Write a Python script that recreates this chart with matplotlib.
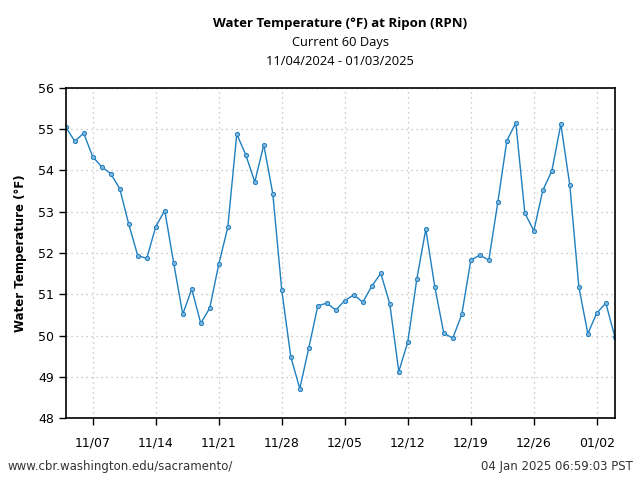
import datetime as dt
import matplotlib
matplotlib.use('Agg')
import matplotlib.pyplot as plt
import matplotlib.dates as mdates

# Valores diarios de temperatura del agua (°F), 11/04/2024 - 01/04/2025
start = dt.datetime(2024, 11, 4)
temps = [55.05, 54.71, 54.90, 54.33, 54.09, 53.92, 53.56, 52.70, 51.94, 51.87,
         52.64, 53.03, 51.75, 50.52, 51.13, 50.30, 50.67, 51.73, 52.62, 54.88,
         54.38, 53.72, 54.62, 53.44, 51.10, 49.49, 48.72,
         49.70, 50.72, 50.79, 50.62, 50.85, 50.99, 50.81, 51.20, 51.51, 50.77,
         49.13, 49.85, 51.37, 52.58, 51.18, 50.06, 49.94, 50.52, 51.83, 51.95,
         51.83, 53.23, 54.72, 55.15, 52.97, 52.54, 53.52, 53.99, 55.12, 53.64,
         51.18,
         50.05, 50.55, 50.79, 49.97]
dates = [start + dt.timedelta(days=i) for i in range(len(temps))]

title = 'Water Temperature (°F) at Ripon (RPN)'
subtitle1 = 'Current 60 Days'
subtitle2 = '11/04/2024 - 01/03/2025'
ylabel = 'Water Temperature (°F)'
footer_left = 'www.cbr.washington.edu/sacramento/'
footer_right = '04 Jan 2025 06:59:03 PST'

color = '#1f7fc0'

fig = plt.figure(figsize=(6.4, 4.8), dpi=100)
ax = fig.add_axes([0.1027, 0.1285, 0.858, 0.6885])

ax.plot(dates, temps, color=color, linewidth=1.0, marker='o', markersize=3,
        markerfacecolor='#7fb6dd', markeredgecolor=color, markeredgewidth=0.7)

ax.set_xlim(dates[0], dates[-1])
ax.set_ylim(48, 56)
ax.set_yticks(range(48, 57))
# ticks semanales empezando el 11/07
ticks = [dt.datetime(2024, 11, 7) + dt.timedelta(days=7 * k) for k in range(9)]
ax.set_xticks(ticks)
ax.xaxis.set_major_formatter(mdates.DateFormatter('%m/%d'))

ax.grid(True, linestyle=(0, (1, 3)), color='#bbbbbb', linewidth=0.9)
ax.tick_params(axis='both', labelsize=9, direction='out', length=5, width=1)
ax.tick_params(axis='x', pad=8)
for s in ax.spines.values():
    s.set_linewidth(1.2)

ax.set_ylabel(ylabel, fontsize=8.5, fontweight='bold', labelpad=8)

cx = 0.1027 + 0.858 / 2
fig.text(cx, 0.952, title, ha='center', va='center', fontsize=9.5,
         fontweight='bold', family='Open Sans')
fig.text(cx, 0.911, subtitle1, ha='center', va='center', fontsize=9.3,
         family='Open Sans')
fig.text(cx, 0.871, subtitle2, ha='center', va='center', fontsize=9.3,
         family='Open Sans')
fig.text(0.011, 0.029, footer_left, ha='left', va='center', fontsize=8.5,
         color='#333333')
fig.text(0.989, 0.029, footer_right, ha='right', va='center', fontsize=8.5,
         color='#333333')

fig.savefig('out.png', dpi=100)
